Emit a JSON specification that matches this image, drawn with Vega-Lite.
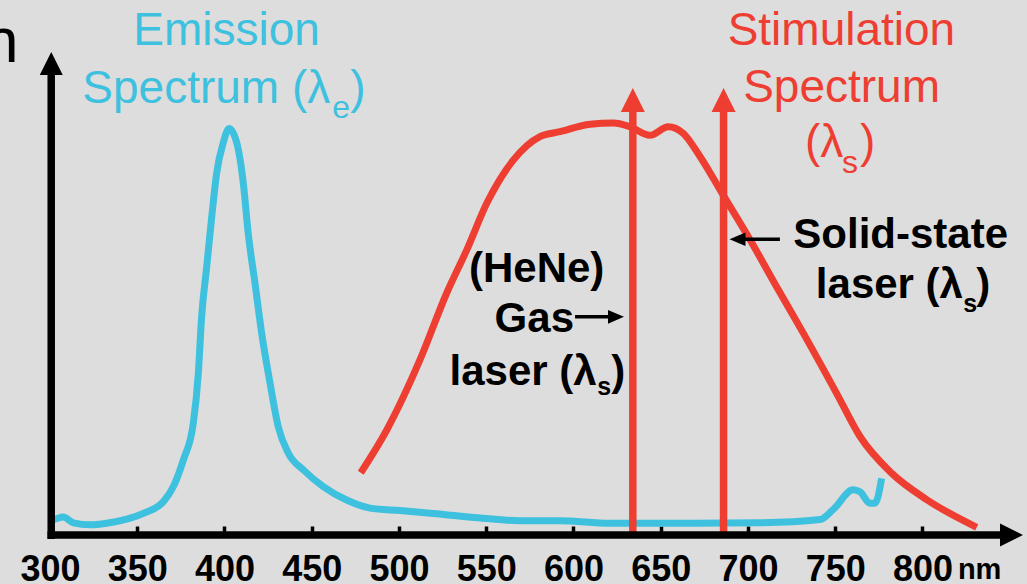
{
  "$schema": "https://vega.github.io/schema/vega-lite/v6.json",
  "width": 977,
  "height": 535,
  "autosize": {"type": "none"},
  "padding": {"left": 50, "top": 0, "right": 0, "bottom": 49},
  "background": "#dddddd",
  "config": {"view": {"stroke": null}, "font": "Liberation Sans", "axisY": {"disable": true}},
  "datasets": {
    "emission": [
      {"wavelength": 301.0, "intensity": 3.7},
      {"wavelength": 302.9, "intensity": 3.9},
      {"wavelength": 307.6, "intensity": 4.4},
      {"wavelength": 313.4, "intensity": 3.0},
      {"wavelength": 322.9, "intensity": 2.5},
      {"wavelength": 332.5, "intensity": 2.9},
      {"wavelength": 344.0, "intensity": 3.9},
      {"wavelength": 353.5, "intensity": 5.3},
      {"wavelength": 365.0, "intensity": 8.2},
      {"wavelength": 370.7, "intensity": 11.9},
      {"wavelength": 376.4, "intensity": 18.4},
      {"wavelength": 382.1, "intensity": 27.4},
      {"wavelength": 385.0, "intensity": 39.7},
      {"wavelength": 386.9, "intensity": 53.6},
      {"wavelength": 389.8, "intensity": 65.9},
      {"wavelength": 392.7, "intensity": 78.2},
      {"wavelength": 395.5, "intensity": 88.9},
      {"wavelength": 399.3, "intensity": 96.4},
      {"wavelength": 402.6, "intensity": 99.9},
      {"wavelength": 407.0, "intensity": 96.4},
      {"wavelength": 410.8, "intensity": 86.4},
      {"wavelength": 413.6, "intensity": 74.1},
      {"wavelength": 417.5, "intensity": 61.8},
      {"wavelength": 421.3, "intensity": 49.6},
      {"wavelength": 426.1, "intensity": 37.3},
      {"wavelength": 430.8, "intensity": 26.6},
      {"wavelength": 436.6, "intensity": 20.1},
      {"wavelength": 445.2, "intensity": 16.0},
      {"wavelength": 456.6, "intensity": 11.9},
      {"wavelength": 470.0, "intensity": 8.6},
      {"wavelength": 483.4, "intensity": 6.6},
      {"wavelength": 500.6, "intensity": 6.0},
      {"wavelength": 519.5, "intensity": 5.3},
      {"wavelength": 548.1, "intensity": 4.1},
      {"wavelength": 569.3, "intensity": 3.5},
      {"wavelength": 592.3, "intensity": 3.5},
      {"wavelength": 620.9, "intensity": 2.9},
      {"wavelength": 668.7, "intensity": 2.9},
      {"wavelength": 706.9, "intensity": 3.0},
      {"wavelength": 741.3, "intensity": 3.8},
      {"wavelength": 748.9, "intensity": 6.3},
      {"wavelength": 760.3, "intensity": 11.1},
      {"wavelength": 764.2, "intensity": 10.6},
      {"wavelength": 769.9, "intensity": 7.8},
      {"wavelength": 772.8, "intensity": 7.8},
      {"wavelength": 776.6, "intensity": 13.9}
    ],
    "stimulation": [
      {"wavelength": 478.1, "intensity": 15.3},
      {"wavelength": 493.0, "intensity": 25.8},
      {"wavelength": 512.0, "intensity": 43.0},
      {"wavelength": 527.3, "intensity": 59.4},
      {"wavelength": 538.8, "intensity": 70.0},
      {"wavelength": 550.3, "intensity": 81.5},
      {"wavelength": 565.5, "intensity": 92.1},
      {"wavelength": 580.8, "intensity": 97.9},
      {"wavelength": 592.3, "intensity": 99.1},
      {"wavelength": 609.5, "intensity": 100.9},
      {"wavelength": 622.8, "intensity": 101.2},
      {"wavelength": 632.4, "intensity": 100.3},
      {"wavelength": 643.8, "intensity": 98.2},
      {"wavelength": 654.3, "intensity": 100.3},
      {"wavelength": 662.9, "intensity": 98.7},
      {"wavelength": 672.5, "intensity": 93.0},
      {"wavelength": 685.8, "intensity": 83.5},
      {"wavelength": 701.1, "intensity": 72.6},
      {"wavelength": 716.4, "intensity": 61.0},
      {"wavelength": 731.7, "intensity": 49.6},
      {"wavelength": 750.8, "intensity": 34.8},
      {"wavelength": 764.2, "intensity": 24.2},
      {"wavelength": 782.3, "intensity": 15.2},
      {"wavelength": 802.4, "intensity": 8.7},
      {"wavelength": 831.1, "intensity": 1.9}
    ],
    "lasers": [
      {"laser": "HeNe gas laser", "wavelength": 634},
      {"laser": "Solid-state laser", "wavelength": 686}
    ]
  },
  "layer": [
    {
      "data": {"name": "emission"},
      "mark": {"type": "line", "color": "#3ec1de", "strokeWidth": 7, "interpolate": "monotone"},
      "encoding": {
        "x": {
          "field": "wavelength", "type": "quantitative", "title": null,
          "scale": {"domain": [300, 859.9], "nice": false, "zero": false},
          "axis": {
            "values": [300, 350, 400, 450, 500, 550, 600, 650, 700, 750, 800],
            "domain": false, "grid": false, "ticks": true, "tickSize": -9, "tickWidth": 3.5, "tickColor": "black",
            "labelFontSize": 36, "labelFontWeight": "bold", "labelFont": "Liberation Sans", "labelColor": "black",
            "labelBaseline": "alphabetic", "labelPadding": 54, "labelOverlap": false, "labelFlush": false, "labelBound": false
          }
        },
        "y": {"field": "intensity", "type": "quantitative", "title": null, "scale": {"domain": [0, 131.45], "nice": false, "zero": false}}
      }
    },
    {
      "data": {"name": "stimulation"},
      "mark": {"type": "line", "color": "#ee3e32", "strokeWidth": 7, "interpolate": "monotone"},
      "encoding": {
        "x": {"field": "wavelength", "type": "quantitative", "title": null},
        "y": {"field": "intensity", "type": "quantitative", "title": null}
      }
    },
    {
      "data": {"name": "lasers"},
      "mark": {"type": "rule", "color": "#ee3e32", "strokeWidth": 7.5},
      "encoding": {
        "x": {"field": "wavelength", "type": "quantitative", "title": null},
        "y": {"datum": 0},
        "y2": {"datum": 105}
      }
    },
    {
      "data": {"name": "lasers"},
      "mark": {"type": "point", "shape": "M0,-1L1,1L-1,1Z", "size": 576, "filled": true, "opacity": 1, "color": "#ee3e32", "strokeWidth": 0},
      "encoding": {
        "x": {"field": "wavelength", "type": "quantitative", "title": null},
        "y": {"datum": 106.9}
      }
    },
    {
      "data": {"values": [{}]},
      "mark": {"type": "rule", "color": "black", "strokeWidth": 7.5},
      "encoding": {"x": {"datum": 298.6}, "x2": {"datum": 845}, "y": {"datum": 0}}
    },
    {
      "data": {"values": [{}]},
      "mark": {"type": "rule", "color": "black", "strokeWidth": 7.5},
      "encoding": {"x": {"datum": 300.7}, "y": {"datum": -1}, "y2": {"datum": 114}}
    },
    {
      "data": {"values": [{}]},
      "mark": {"type": "point", "shape": "M1,0L-1,-1L-1,1Z", "size": 529, "filled": true, "opacity": 1, "color": "black", "strokeWidth": 0},
      "encoding": {"x": {"datum": 851}, "y": {"datum": 0}}
    },
    {
      "data": {"values": [{}]},
      "mark": {"type": "point", "shape": "M0,-1L1,1L-1,1Z", "size": 529, "filled": true, "opacity": 1, "color": "black", "strokeWidth": 0},
      "encoding": {"x": {"datum": 300.7}, "y": {"datum": 115.85}}
    },
    {
      "data": {"values": [{}]},
      "mark": {"type": "rule", "color": "black", "strokeWidth": 3.5},
      "encoding": {"x": {"datum": 600.9}, "x2": {"datum": 620}, "y": {"datum": 53.6}}
    },
    {
      "data": {"values": [{}]},
      "mark": {"type": "point", "shape": "M1,0L-1,-0.85L-1,0.85Z", "size": 256, "filled": true, "opacity": 1, "color": "black", "strokeWidth": 0},
      "encoding": {"x": {"datum": 624.35}, "y": {"datum": 53.6}}
    },
    {
      "data": {"values": [{}]},
      "mark": {"type": "rule", "color": "black", "strokeWidth": 3.5},
      "encoding": {"x": {"datum": 696.0}, "x2": {"datum": 718.3}, "y": {"datum": 72.65}}
    },
    {
      "data": {"values": [{}]},
      "mark": {"type": "point", "shape": "M-1,0L1,-0.85L1,0.85Z", "size": 256, "filled": true, "opacity": 1, "color": "black", "strokeWidth": 0},
      "encoding": {"x": {"datum": 694.0}, "y": {"datum": 72.65}}
    },
    {
      "data": {"values": [{}]},
      "mark": {"type": "text", "text": "n", "align": "right", "baseline": "alphabetic", "fontSize": 63, "color": "black"},
      "encoding": {"x": {"datum": 282}, "y": {"datum": 116.2}}
    },
    {
      "data": {"values": [{}]},
      "mark": {"type": "text", "text": "Emission", "align": "center", "baseline": "alphabetic", "fontSize": 46, "color": "#3ec1de"},
      "encoding": {"x": {"datum": 401.2}, "y": {"datum": 120.39}}
    },
    {
      "data": {"values": [{}]},
      "mark": {"type": "text", "text": "Spectrum (λ", "align": "left", "baseline": "alphabetic", "fontSize": 46, "color": "#3ec1de"},
      "encoding": {"x": {"datum": 318.5}, "y": {"datum": 106.14}}
    },
    {
      "data": {"values": [{}]},
      "mark": {"type": "text", "text": "e", "align": "left", "baseline": "alphabetic", "fontSize": 32, "color": "#3ec1de"},
      "encoding": {"x": {"datum": 461.8}, "y": {"datum": 102.5}}
    },
    {
      "data": {"values": [{}]},
      "mark": {"type": "text", "text": ")", "align": "left", "baseline": "alphabetic", "fontSize": 46, "color": "#3ec1de"},
      "encoding": {"x": {"datum": 472.0}, "y": {"datum": 106.14}}
    },
    {
      "data": {"values": [{}]},
      "mark": {"type": "text", "text": "Stimulation", "align": "center", "baseline": "alphabetic", "fontSize": 46, "color": "#ee3e32"},
      "encoding": {"x": {"datum": 753.55}, "y": {"datum": 120.39}}
    },
    {
      "data": {"values": [{}]},
      "mark": {"type": "text", "text": "Spectrum", "align": "center", "baseline": "alphabetic", "fontSize": 46, "color": "#ee3e32"},
      "encoding": {"x": {"datum": 753.65}, "y": {"datum": 106.4}}
    },
    {
      "data": {"values": [{}]},
      "mark": {"type": "text", "text": "(λ", "align": "right", "baseline": "alphabetic", "fontSize": 46, "color": "#ee3e32"},
      "encoding": {"x": {"datum": 754.6}, "y": {"datum": 92.87}}
    },
    {
      "data": {"values": [{}]},
      "mark": {"type": "text", "text": "s", "align": "left", "baseline": "alphabetic", "fontSize": 32, "color": "#ee3e32"},
      "encoding": {"x": {"datum": 753.9}, "y": {"datum": 88.94}}
    },
    {
      "data": {"values": [{}]},
      "mark": {"type": "text", "text": ")", "align": "left", "baseline": "alphabetic", "fontSize": 46, "color": "#ee3e32"},
      "encoding": {"x": {"datum": 764.2}, "y": {"datum": 92.87}}
    },
    {
      "data": {"values": [{}]},
      "mark": {"type": "text", "text": "(HeNe)", "align": "center", "baseline": "alphabetic", "fontSize": 42, "fontWeight": "bold", "color": "black"},
      "encoding": {"x": {"datum": 578.9}, "y": {"datum": 62.24}}
    },
    {
      "data": {"values": [{}]},
      "mark": {"type": "text", "text": "Gas", "align": "right", "baseline": "alphabetic", "fontSize": 42, "fontWeight": "bold", "color": "black"},
      "encoding": {"x": {"datum": 600.3}, "y": {"datum": 49.95}}
    },
    {
      "data": {"values": [{}]},
      "mark": {"type": "text", "text": "laser (λ", "align": "right", "baseline": "alphabetic", "fontSize": 42, "fontWeight": "bold", "color": "black"},
      "encoding": {"x": {"datum": 613.3}, "y": {"datum": 36.86}}
    },
    {
      "data": {"values": [{}]},
      "mark": {"type": "text", "text": "s", "align": "left", "baseline": "alphabetic", "fontSize": 25, "fontWeight": "bold", "color": "black"},
      "encoding": {"x": {"datum": 613.6}, "y": {"datum": 34.4}}
    },
    {
      "data": {"values": [{}]},
      "mark": {"type": "text", "text": ")", "align": "left", "baseline": "alphabetic", "fontSize": 42, "fontWeight": "bold", "color": "black"},
      "encoding": {"x": {"datum": 621.6}, "y": {"datum": 36.86}}
    },
    {
      "data": {"values": [{}]},
      "mark": {"type": "text", "text": "Solid-state", "align": "center", "baseline": "alphabetic", "fontSize": 42, "fontWeight": "bold", "color": "black"},
      "encoding": {"x": {"datum": 787.5}, "y": {"datum": 70.44}}
    },
    {
      "data": {"values": [{}]},
      "mark": {"type": "text", "text": "laser (λ", "align": "right", "baseline": "alphabetic", "fontSize": 42, "fontWeight": "bold", "color": "black"},
      "encoding": {"x": {"datum": 823.2}, "y": {"datum": 58.16}}
    },
    {
      "data": {"values": [{}]},
      "mark": {"type": "text", "text": "s", "align": "left", "baseline": "alphabetic", "fontSize": 25, "fontWeight": "bold", "color": "black"},
      "encoding": {"x": {"datum": 823.4}, "y": {"datum": 54.86}}
    },
    {
      "data": {"values": [{}]},
      "mark": {"type": "text", "text": ")", "align": "left", "baseline": "alphabetic", "fontSize": 42, "fontWeight": "bold", "color": "black"},
      "encoding": {"x": {"datum": 830.8}, "y": {"datum": 58.16}}
    },
    {
      "data": {"values": [{}]},
      "mark": {"type": "text", "text": "nm", "align": "left", "baseline": "alphabetic", "fontSize": 29, "fontWeight": "bold", "color": "black"},
      "encoding": {"x": {"datum": 820.3}, "y": {"datum": -10.8}}
    }
  ]
}
